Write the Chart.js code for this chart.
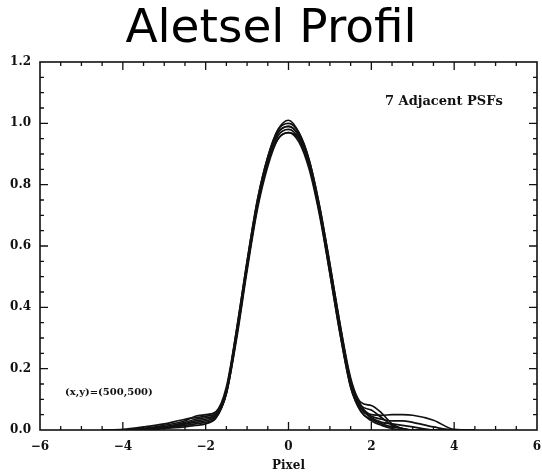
<!DOCTYPE html>
<html>
<head>
<meta charset="utf-8">
<script src="https://cdn.jsdelivr.net/npm/chart.js@4/dist/chart.umd.min.js"></script>
<style>
  html, body { margin: 0; padding: 0; background: #fff; }
  #wrap { width: 542px; height: 473px; }
</style>
</head>
<body>
<div id="wrap"><canvas id="psf-profile"></canvas></div>
<script>
// sample positions (pixel offset from centre)
var xs = [-4.5, -4, -3.5, -3, -2.5, -2.25, -2, -1.75, -1.5, -1.25, -1, -0.75, -0.5, -0.25, 0,
          0.25, 0.5, 0.75, 1, 1.25, 1.5, 1.75, 2, 2.25, 2.5, 2.75, 3, 3.5, 4, 4.5];

// the 7 adjacent PSFs
var psf1 = [0, 0, 0.005, 0.015, 0.03, 0.045, 0.05, 0.06, 0.14, 0.33, 0.55, 0.75, 0.89, 0.98, 1.01,
            0.97, 0.88, 0.73, 0.54, 0.34, 0.17, 0.09, 0.08, 0.055, 0.02, 0.005, 0, 0, 0, 0];
var psf2 = [0, 0, 0.003, 0.01, 0.02, 0.03, 0.035, 0.05, 0.13, 0.32, 0.54, 0.74, 0.88, 0.97, 0.99,
            0.96, 0.87, 0.72, 0.53, 0.33, 0.16, 0.08, 0.05, 0.048, 0.05, 0.05, 0.048, 0.032, 0.002, 0];
var psf3 = [0, 0, 0.002, 0.008, 0.02, 0.025, 0.03, 0.045, 0.12, 0.31, 0.53, 0.73, 0.87, 0.96, 0.98,
            0.95, 0.86, 0.71, 0.52, 0.32, 0.15, 0.07, 0.045, 0.035, 0.03, 0.03, 0.025, 0.01, 0, 0];
var psf4 = [0, 0, 0, 0.005, 0.01, 0.015, 0.02, 0.04, 0.12, 0.30, 0.52, 0.72, 0.86, 0.95, 0.97,
            0.95, 0.86, 0.71, 0.51, 0.31, 0.14, 0.06, 0.03, 0.015, 0.005, 0, 0, 0, 0, 0];
var psf5 = [0, 0.002, 0.01, 0.02, 0.035, 0.04, 0.045, 0.055, 0.13, 0.33, 0.55, 0.75, 0.89, 0.98, 1.0,
            0.97, 0.88, 0.73, 0.54, 0.34, 0.16, 0.08, 0.065, 0.04, 0.015, 0.005, 0, 0, 0, 0];
var psf6 = [0, 0, 0.003, 0.01, 0.025, 0.035, 0.04, 0.05, 0.13, 0.32, 0.54, 0.74, 0.88, 0.97, 0.99,
            0.96, 0.87, 0.72, 0.53, 0.33, 0.15, 0.07, 0.04, 0.025, 0.02, 0.015, 0.01, 0, 0, 0];
var psf7 = [0, 0, 0.002, 0.006, 0.015, 0.02, 0.025, 0.04, 0.12, 0.31, 0.53, 0.73, 0.87, 0.95, 0.97,
            0.94, 0.85, 0.70, 0.51, 0.31, 0.14, 0.06, 0.035, 0.02, 0.01, 0.005, 0, 0, 0, 0];

var series = [psf1, psf2, psf3, psf4, psf5, psf6, psf7];

var xMin = -6, xMax = 6, xStep = 2, xMinor = 0.5;
var yMin = 0, yMax = 1.2, yStep = 0.2, yMinor = 0.05;

var titleText = 'Aletsel Profil';
var xLabel = 'Pixel';
var noteTop = '7 Adjacent PSFs';
var noteBottom = '(x,y)=(500,500)';

var serifBold = '"DejaVu Serif", "Liberation Serif", serif';

// box + inward ticks on all four sides, plus the two notes
var frameTicks = {
    id: 'frameTicks',
    afterDatasetsDraw: function (chart) {
        var ctx = chart.ctx;
        var a = chart.chartArea;
        var xs_ = chart.scales.x, ys_ = chart.scales.y;
        ctx.save();
        ctx.strokeStyle = '#111';
        ctx.lineWidth = 1.6;
        ctx.strokeRect(a.left, a.top, a.right - a.left, a.bottom - a.top);

        ctx.lineWidth = 1.3;
        var i, v, p, len;
        var nx = Math.round((xMax - xMin) / xMinor);
        for (i = 1; i < nx; i++) {
            v = xMin + i * xMinor;
            p = xs_.getPixelForValue(v);
            len = (Math.abs(v % xStep) < 1e-9) ? 8 : 4;
            ctx.beginPath();
            ctx.moveTo(p, a.bottom); ctx.lineTo(p, a.bottom - len);
            ctx.moveTo(p, a.top); ctx.lineTo(p, a.top + len);
            ctx.stroke();
        }
        var ny = Math.round((yMax - yMin) / yMinor);
        for (i = 1; i < ny; i++) {
            v = yMin + i * yMinor;
            p = ys_.getPixelForValue(v);
            len = (i % 4 === 0) ? 8 : 4;
            ctx.beginPath();
            ctx.moveTo(a.left, p); ctx.lineTo(a.left + len, p);
            ctx.moveTo(a.right, p); ctx.lineTo(a.right - len, p);
            ctx.stroke();
        }

        ctx.fillStyle = '#111';
        ctx.textBaseline = 'middle';
        ctx.textAlign = 'left';
        ctx.font = 'bold 13px ' + serifBold;
        ctx.fillText(noteTop, a.left + 345, a.top + 40);
        ctx.font = 'bold 10px ' + serifBold;
        ctx.fillText(noteBottom, a.left + 25, a.bottom - 38);
        ctx.restore();
    }
};

var chart = new Chart('psf-profile', {
    type: 'line',
    data: {
        labels: xs,
        datasets: series.map(function (s, k) {
            return {
                label: 'PSF ' + (k + 1),
                data: xs.map(function (x, j) { return { x: x, y: s[j] }; }),
                borderColor: '#111',
                borderWidth: 1.7,
                pointRadius: 0,
                cubicInterpolationMode: 'monotone',
                fill: false
            };
        })
    },
    options: {
        responsive: true,
        maintainAspectRatio: false,
        animation: false,
        layout: { padding: { left: 0, right: 0, top: 0, bottom: 0 } },
        plugins: {
            legend: { display: false },
            tooltip: { enabled: false },
            title: {
                display: true,
                text: titleText,
                color: '#000',
                font: { family: '"DejaVu Sans", sans-serif', size: 47, weight: 'normal', lineHeight: 1 },
                padding: { top: 6, bottom: 9 }
            }
        },
        scales: {
            x: {
                type: 'linear',
                min: xMin,
                max: xMax,
                grid: { display: false, drawTicks: false },
                border: { display: false },
                afterFit: function (scale) {
                    scale.height = 43;
                    scale.paddingRight = 5;
                },
                ticks: {
                    stepSize: xStep,
                    color: '#111',
                    padding: 10,
                    maxRotation: 0,
                    font: { family: serifBold, size: 12, weight: 'bold' },
                    callback: function (v) { return v < 0 ? '\u2212' + Math.abs(v) : String(v); }
                },
                title: {
                    display: true,
                    text: xLabel,
                    color: '#111',
                    padding: { top: 0, bottom: 0 },
                    font: { family: serifBold, size: 12, weight: 'bold' }
                }
            },
            y: {
                min: yMin,
                max: yMax,
                grid: { display: false, drawTicks: false },
                border: { display: false },
                afterFit: function (scale) { scale.width = 40; },
                ticks: {
                    stepSize: yStep,
                    color: '#111',
                    padding: 9,
                    font: { family: serifBold, size: 12, weight: 'bold' },
                    callback: function (v) { return v.toFixed(1); }
                }
            }
        }
    },
    plugins: [frameTicks]
});
</script>
</body>
</html>
